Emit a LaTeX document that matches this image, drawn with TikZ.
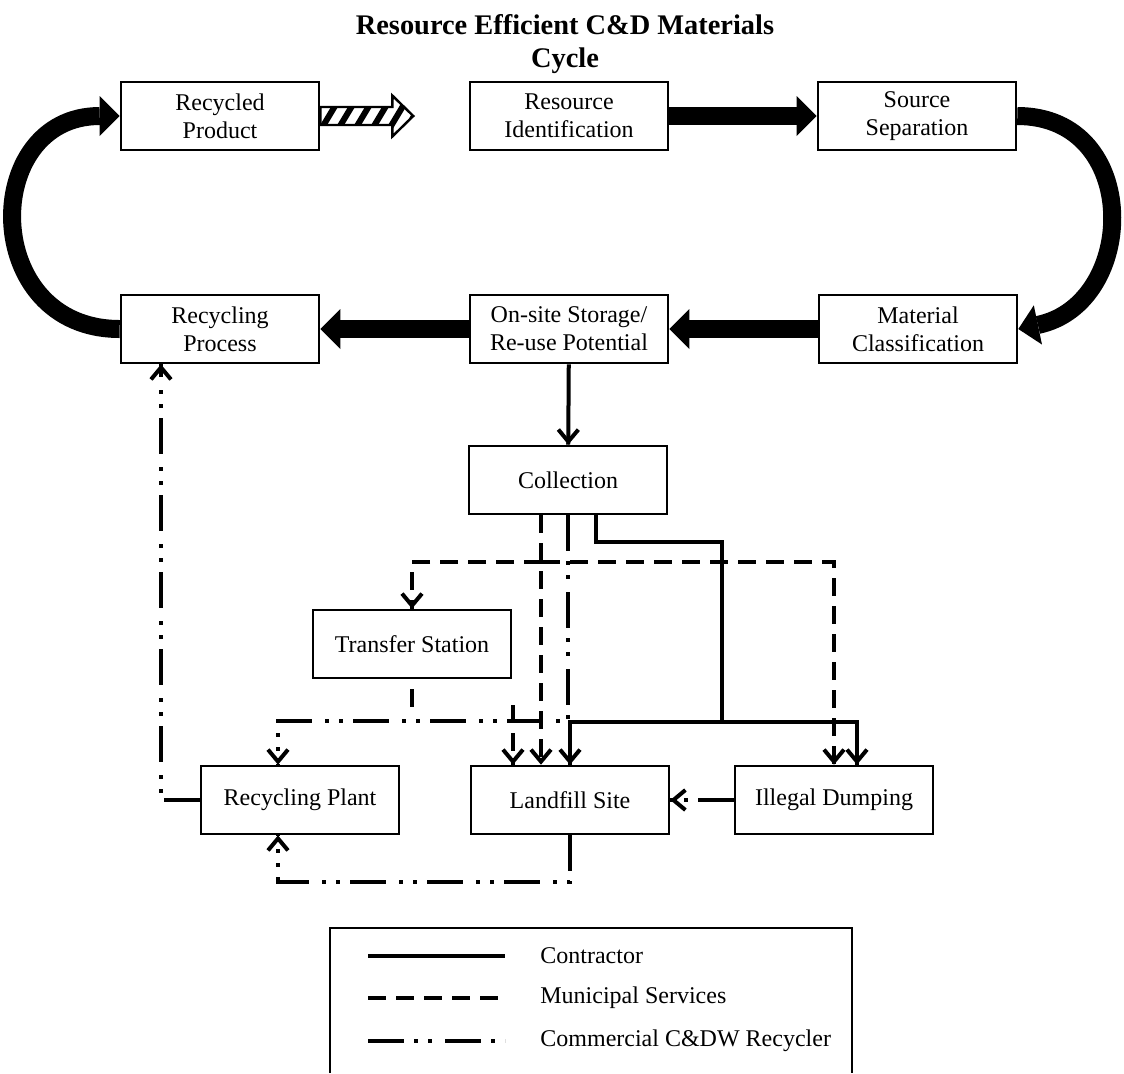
\documentclass[tikz,border=0pt]{standalone}
\usepackage{fontspec}
\setmainfont{Liberation Serif}
\usetikzlibrary{arrows.meta,decorations.markings}

\begin{document}
\begin{tikzpicture}[x=0.5pt,y=0.5pt]
\tikzstyle{every node}+=[inner sep=0pt]
\tikzstyle{stage}=[draw, line width=1.3pt, minimum width=99pt, minimum height=34pt, align=center, font=\fontsize{12}{14}\selectfont]
\tikzstyle{bigflow}=[line width=9pt, -{Triangle[length=10pt,width=20pt,line width=0pt]}]
\tikzstyle{contractor}=[line width=2pt]
\tikzstyle{municipal}=[line width=2pt, dash pattern=on 9pt off 5pt]
\tikzstyle{recycler}=[line width=2pt, dash pattern=on 18pt off 5pt on 2pt off 5pt on 2pt off 6.5pt]
\tikzstyle{flowtip}=[postaction={decorate, decoration={markings, mark=at position 1 with {\pgfsetdash{}{0pt}\arrow{Straight Barb[length=6pt,width=10pt]}}}}]
\tikzstyle{hatchflow}=[line width=1.2pt, path picture={\foreach \k in {0,...,8} \draw[line width=3pt] ([xshift=\k*8.5pt]path picture bounding box.south west) ++(-6,-4) -- ++(30,50);}]
\tikzstyle{legtext}=[anchor=west, font=\fontsize{12}{14}\selectfont]
\useasboundingbox (0,0) rectangle (1124,-1073);
\draw (565,-44) node (title) [align=center, font=\bfseries\fontsize{14.2}{16.5}\selectfont] {Resource Efficient C\&D Materials\\Cycle};
% cycle
\draw (220,-116) node (recprod) [stage] {Recycled\\Product};
\draw (569,-116) node (resid) [stage] {Resource\\Identification};
\draw (917,-116) node (srcsep) [stage] {Source\\Separation};
\draw (918,-329) node (matcls) [stage] {Material\\Classification};
\draw (569,-329) node (onsite) [stage] {On-site Storage/\\Re-use Potential};
\draw (220,-329) node (recproc) [stage] {Recycling\\Process};
\draw[hatchflow] (recprod.east) ++(0,9) -- ++(72,0) -- ++(0,11.5) -- ++(21,-20.5) -- ++(-21,-20.5) -- ++(0,11.5) -- ++(-72,0) -- cycle;
\draw[bigflow] (resid) -- (srcsep);
\draw[bigflow] (srcsep.east) .. controls +(125,0) and +(120,25) .. (matcls.east);
\draw[bigflow] (matcls) -- (onsite);
\draw[bigflow] (onsite) -- (recproc);
\draw[bigflow] (recproc.west) .. controls +(-140,0) and +(-140,0) .. (recprod.west);
% collection and disposal
\draw (568,-480) node (collect) [stage] {Collection};
\draw (412,-644) node (transfer) [stage] {Transfer Station};
\draw (300,-800) node (plant) [stage] {Recycling Plant};
\draw (570,-800) node (landfill) [stage] {Landfill Site};
\draw (834,-800) node (illegal) [stage] {Illegal Dumping};
\coordinate (mrow) at (542,-562);
\coordinate (rrow) at (0,-721);
\coordinate (lowrow) at (0,-882);
\coordinate (tdrop) at (513,-705);
\coordinate (cturn) at (722,-542);
\coordinate (cjoin) at (722,-722);
\draw[contractor,flowtip] (onsite) -- (collect);
% contractor
\draw[contractor] ([xshift=14pt]collect.south) |- (cturn) -- (cjoin);
\draw[contractor,flowtip] (cjoin) -| (landfill.north);
\draw[contractor,flowtip] (cjoin) -| ([xshift=11.5pt]illegal.north);
% municipal services
\draw[municipal,flowtip] ([xshift=-13.5pt]collect.south) -- ([xshift=-13.5pt]collect.south |- landfill.north);
\draw[municipal,flowtip] (mrow) -| (transfer.north);
\draw[municipal,flowtip] (mrow) -| (illegal.north);
\draw[municipal,dash phase=9pt] (transfer.south) -- ([yshift=-17pt]transfer.south);
\draw[municipal,flowtip] (tdrop) -- (tdrop |- landfill.north);
% commercial recycler
\draw[recycler,flowtip] (collect.south) -- (collect.south |- rrow) -| ([xshift=-11pt]plant.north);
\draw[recycler,flowtip] (plant.west) -| ([xshift=-29.5pt]recproc.south);
\draw[recycler,flowtip] (landfill.south) -- (landfill.south |- lowrow) -| ([xshift=-11pt]plant.south);
\draw[recycler,flowtip] (illegal) -- (landfill);
% legend
\draw[line width=1.3pt] (330,-1073) -- (330,-928) -- (852,-928) -- (852,-1073);
\draw (540,-956) node (legcon) [legtext] {Contractor};
\draw (540,-998) node (legmun) [legtext] {Municipal Services};
\draw (540,-1041) node (legrec) [legtext] {Commercial C\&DW Recycler};
\draw[contractor] ([xshift=-86pt]legcon.west) -- ([xshift=-17.5pt]legcon.west);
\draw[municipal] ([xshift=-86pt]legmun.west) -- ([xshift=-17.5pt]legmun.west);
\draw[recycler] ([xshift=-86pt]legrec.west) -- ([xshift=-17.5pt]legrec.west);
\end{tikzpicture}
\end{document}
